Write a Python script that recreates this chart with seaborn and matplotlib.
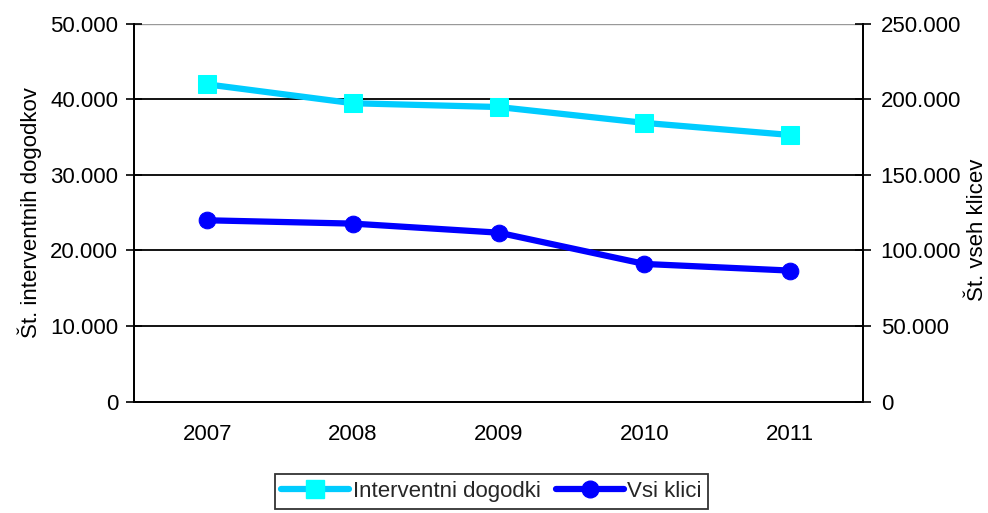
import numpy as np
import pandas as pd
import matplotlib
matplotlib.use('Agg')
import matplotlib.pyplot as plt
import seaborn as sns
from matplotlib.ticker import FuncFormatter, FixedLocator
from matplotlib.lines import Line2D

# Data
years = ['2007', '2008', '2009', '2010', '2011']
interventni = [42000, 39500, 39000, 36900, 35300]
vsi_klici = [120000, 117800, 111800, 91100, 86700]

sns.set_theme(style='white')
plt.rcParams['font.family'] = ['Liberation Sans', 'DejaVu Sans']

df = pd.DataFrame({'pos': np.arange(len(years)),
                   'leto': years,
                   'interventni': interventni,
                   'vsi': vsi_klici})

FS = 16
CYAN_LINE = '#00CCFF'
CYAN_MARK = '#00FFFF'
BLUE = '#0000FF'


def thousands(v, pos):
    return '{:,.0f}'.format(v).replace(',', '.')


fig = plt.figure(figsize=(9.88, 5.13), dpi=100)
ax = fig.add_axes([0.1361, 0.2173, 0.7374, 0.736])
ax2 = ax.twinx()

sns.lineplot(data=df, x='pos', y='interventni', ax=ax, color=CYAN_LINE,
             linewidth=4.5, marker='s', markersize=13, markerfacecolor=CYAN_MARK,
             markeredgecolor=CYAN_MARK, legend=False)
sns.lineplot(data=df, x='pos', y='vsi', ax=ax2, color=BLUE,
             linewidth=4.5, marker='o', markersize=12, markerfacecolor=BLUE,
             markeredgecolor=BLUE, legend=False)

ax.set_xlim(-0.5, len(years) - 0.5)
ax.set_ylim(0, 50000)
ax2.set_ylim(0, 250000)

ax.set_yticks(np.arange(0, 50001, 10000))
ax2.set_yticks(np.arange(0, 250001, 50000))
ax.yaxis.set_major_formatter(FuncFormatter(thousands))
ax2.yaxis.set_major_formatter(FuncFormatter(thousands))

ax.set_xticks(df['pos'])
ax.set_xticklabels(years)
ax.xaxis.set_minor_locator(FixedLocator(np.arange(-0.5, len(years), 1.0)))
ax.tick_params(axis='x', which='major', length=0, pad=16.5, labelsize=FS, colors='black')
ax.tick_params(axis='x', which='minor', length=5.5, width=1.2, direction='out', color='black')
ax.tick_params(axis='y', length=11.5, width=1.2, direction='inout', labelsize=FS, pad=6, colors='black')
ax2.tick_params(axis='y', length=11.5, width=1.2, direction='inout', labelsize=FS, pad=7, colors='black')

# horizontal gridlines
for v in range(10000, 50000, 10000):
    ax.axhline(v, color='black', linewidth=1.3, zorder=0)
ax.axhline(50000, color='#999999', linewidth=1, zorder=0)

for a in (ax, ax2):
    a.spines['top'].set_visible(False)
    for s in ('left', 'right', 'bottom'):
        a.spines[s].set_color('black')
        a.spines[s].set_linewidth(1.3)

ax.set_xlabel('')
ax.set_ylabel('Št. interventnih dogodkov', fontsize=FS, color='black')
ax2.set_ylabel('Št. vseh klicev', fontsize=FS, color='black')
ax.yaxis.set_label_coords(-0.127, 0.5)
ax2.yaxis.set_label_coords(1.143, 0.455)

handles = [
    Line2D([], [], color=CYAN_LINE, linewidth=4.5, marker='s', markersize=13,
           markerfacecolor=CYAN_MARK, markeredgecolor=CYAN_MARK),
    Line2D([], [], color=BLUE, linewidth=4.5, marker='o', markersize=12,
           markerfacecolor=BLUE, markeredgecolor=BLUE),
]
leg = fig.legend(handles, ['Interventni dogodki', 'Vsi klici'],
                 loc='center', bbox_to_anchor=(0.4975, 0.042), ncol=2,
                 fontsize=FS, frameon=True, fancybox=False, handlelength=3.05,
                 handletextpad=0.15, columnspacing=0.7, borderpad=0.3,
                 borderaxespad=0)
leg.get_frame().set_edgecolor('black')
leg.get_frame().set_linewidth(1.3)

fig.savefig('out.png', dpi=100)
